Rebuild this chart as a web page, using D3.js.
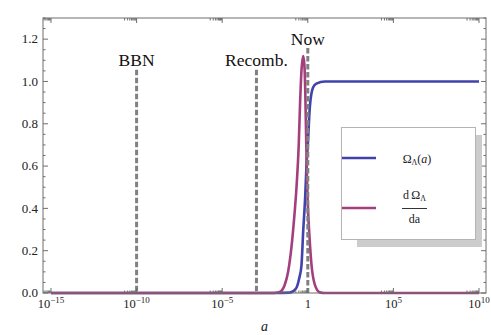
<!DOCTYPE html>
<html>
<head>
<meta charset="utf-8">
<script src="https://cdnjs.cloudflare.com/ajax/libs/d3/7.8.5/d3.min.js"></script>
<style>
	body { margin: 0; background: #fff; }
	svg { display: block; }
	svg text { font-family: 'Liberation Serif', 'Times New Roman', Times, 'DejaVu Serif', serif; }
</style>
</head>
<body>
<svg id="chart" width="491" height="335"></svg>
<script>
// Values (x given as log10 of a)
const omegaLogA = [-15, -2, -1.05, -0.7, -0.5, -0.37, -0.27, -0.15, -0.076, 0, 0.12, 0.3, 0.5, 1, 10];
const omegaVal  = [0, 0, 0.002, 0.02, 0.07, 0.13, 0.29, 0.46, 0.605, 0.7, 0.88, 0.97, 0.99, 1.0, 1.0];

const dOmegaLogA = [-15, -2, -1.64, -1.34, -1.15, -0.95, -0.8, -0.66, -0.53, -0.45, -0.37, -0.27, -0.2, -0.15, -0.1, -0.05, 0.02, 0.08, 0.22, 0.41, 0.7, 1, 10];
const dOmegaVal  = [0, 0, 0.005, 0.04, 0.1, 0.22, 0.35, 0.5, 0.7, 0.9, 1.05, 1.12, 1.08, 0.96, 0.75, 0.55, 0.38, 0.29, 0.13, 0.04, 0.003, 0, 0];

// Events (dashed markers)
const eventNames = ["BBN", "Recomb.", "Now"];
const eventA     = [1e-10, 1e-3, 1];
const eventTop   = [1.055, 1.055, 1.158];

// Ticks
const xMajorExp = [-15, -10, -5, 0, 5, 10];
const yMajor = [0, 0.2, 0.4, 0.6, 0.8, 1.0, 1.2];

const svg = d3.select("#chart");
const serif = "'Liberation Serif', 'Times New Roman', Times, 'DejaVu Serif', serif";
svg.attr("font-family", serif);

// Frame box
const frame = {left: 43, right: 486, top: 18, bottom: 293};

let x = d3.scaleLog().domain([1e-15, 1e10]).range([51, 479]);
let y = d3.scaleLinear().domain([0, 1.3]).range([293, 18]);

const frameColor = "#6e6e6e";

// Clip for everything inside the frame
svg.append("clipPath").attr("id", "clip")
	.append("rect")
	.attr("x", frame.left).attr("y", frame.top)
	.attr("width", frame.right - frame.left).attr("height", frame.bottom - frame.top + 3);

// Curves
let line = d3.line()
	.x(d => x(Math.pow(10, d[0])))
	.y(d => y(d[1]))
	.curve(d3.curveMonotoneX);

let plot = svg.append("g").attr("clip-path", "url(#clip)");

plot.append("path")
	.attr("d", line(d3.zip(omegaLogA, omegaVal)))
	.attr("fill", "none")
	.attr("stroke", "#4242ad")
	.attr("stroke-width", 2.6);

plot.append("path")
	.attr("d", line(d3.zip(dOmegaLogA, dOmegaVal)))
	.attr("fill", "none")
	.attr("stroke", "#a33f7d")
	.attr("stroke-width", 2.6);

// Dashed event lines and their labels
eventNames.forEach((name, i) => {
	let xp = x(eventA[i]);
	plot.append("line")
		.attr("x1", xp).attr("x2", xp)
		.attr("y1", y(eventTop[i])).attr("y2", y(0))
		.attr("stroke", "#808080")
		.attr("stroke-width", 3)
		.attr("stroke-dasharray", "5.5,2.5");
	svg.append("text")
		.attr("x", xp)
		.attr("y", y(eventTop[i]) - 3.5)
		.attr("text-anchor", "middle")
		.attr("font-size", 17.5)
		.attr("fill", "#111")
		.text(name);
});

// Frame
svg.append("rect")
	.attr("x", frame.left).attr("y", frame.top)
	.attr("width", frame.right - frame.left).attr("height", frame.bottom - frame.top)
	.attr("fill", "none")
	.attr("stroke", frameColor)
	.attr("stroke-width", 1);

let ticks = svg.append("g").attr("stroke", frameColor).attr("stroke-width", 1);

// x ticks (bottom and top), log minor ticks just left of each major
xMajorExp.forEach(e => {
	let xp = x(Math.pow(10, e));
	ticks.append("line").attr("x1", xp).attr("x2", xp).attr("y1", frame.bottom).attr("y2", frame.bottom - 5);
	ticks.append("line").attr("x1", xp).attr("x2", xp).attr("y1", frame.top).attr("y2", frame.top + 5);
	for (let k = 2; k <= 9; k++){
		let xm = x(k * Math.pow(10, e - 1));
		if (xm < frame.left) continue;
		ticks.append("line").attr("x1", xm).attr("x2", xm).attr("y1", frame.bottom).attr("y2", frame.bottom - 2.5);
		ticks.append("line").attr("x1", xm).attr("x2", xm).attr("y1", frame.top).attr("y2", frame.top + 2.5);
	}
	// Tick label: 10^e, or "1"
	let t = svg.append("text")
		.attr("x", xp)
		.attr("y", 308)
		.attr("text-anchor", "middle")
		.attr("font-size", 12.5)
		.attr("fill", "#222");
	if (e === 0){
		t.text("1");
	} else {
		t.append("tspan").text("10");
		t.append("tspan").attr("dy", -5).attr("font-size", 9).text(e < 0 ? "\u2212" + (-e) : e);
	}
});

// y ticks (left and right), minor every 0.05
d3.range(0, 1.3001, 0.05).forEach(v => {
	let yp = y(v);
	let major = Math.abs(v / 0.2 - Math.round(v / 0.2)) < 1e-6;
	let len = major ? 5 : 2.5;
	ticks.append("line").attr("x1", frame.left).attr("x2", frame.left + len).attr("y1", yp).attr("y2", yp);
	ticks.append("line").attr("x1", frame.right).attr("x2", frame.right - len).attr("y1", yp).attr("y2", yp);
});

yMajor.forEach(v => {
	svg.append("text")
		.attr("x", 38)
		.attr("y", y(v))
		.attr("dy", "0.33em")
		.attr("text-anchor", "end")
		.attr("font-size", 13)
		.attr("fill", "#222")
		.text(v.toFixed(1));
});

// Axis label
svg.append("text")
	.attr("x", (frame.left + frame.right) / 2)
	.attr("y", 331)
	.attr("text-anchor", "middle")
	.attr("font-size", 14)
	.attr("font-style", "italic")
	.attr("fill", "#222")
	.text("a");

// Legend with drop shadow
let legend = svg.append("g");
legend.append("rect")
	.attr("x", 357).attr("y", 135).attr("width", 125).attr("height", 112)
	.attr("fill", "#cccccc");
legend.append("rect")
	.attr("x", 341.5).attr("y", 127.5).attr("width", 134).attr("height", 112)
	.attr("fill", "#fff")
	.attr("stroke", "#b4b4b4")
	.attr("stroke-width", 1);

legend.append("line")
	.attr("x1", 342).attr("x2", 376).attr("y1", 158).attr("y2", 158)
	.attr("stroke", "#4242ad").attr("stroke-width", 2.6);
legend.append("line")
	.attr("x1", 342).attr("x2", 376).attr("y1", 208).attr("y2", 208)
	.attr("stroke", "#a33f7d").attr("stroke-width", 2.6);

// Omega_Lambda(a)
let t1 = legend.append("text")
	.attr("x", 417).attr("y", 163)
	.attr("text-anchor", "middle")
	.attr("font-size", 12)
	.attr("fill", "#222");
t1.append("tspan").text("\u03A9");
t1.append("tspan").attr("font-size", 8).attr("dy", 2).text("\u039B");
t1.append("tspan").attr("dy", -2).text("(");
t1.append("tspan").attr("font-style", "italic").text("a");
t1.append("tspan").text(")");

// dOmega/da fraction
let t2 = legend.append("text")
	.attr("x", 414.5).attr("y", 199)
	.attr("text-anchor", "middle")
	.attr("font-size", 12)
	.attr("fill", "#222");
t2.append("tspan").text("d\u2009\u03A9");
t2.append("tspan").attr("font-size", 8).attr("dy", 2).text("\u039B");
legend.append("line")
	.attr("x1", 402).attr("x2", 427).attr("y1", 208.5).attr("y2", 208.5)
	.attr("stroke", "#333").attr("stroke-width", 1);
legend.append("text")
	.attr("x", 414.5).attr("y", 223)
	.attr("text-anchor", "middle")
	.attr("font-size", 12)
	.attr("fill", "#222")
	.text("da");
</script>
</body>
</html>
